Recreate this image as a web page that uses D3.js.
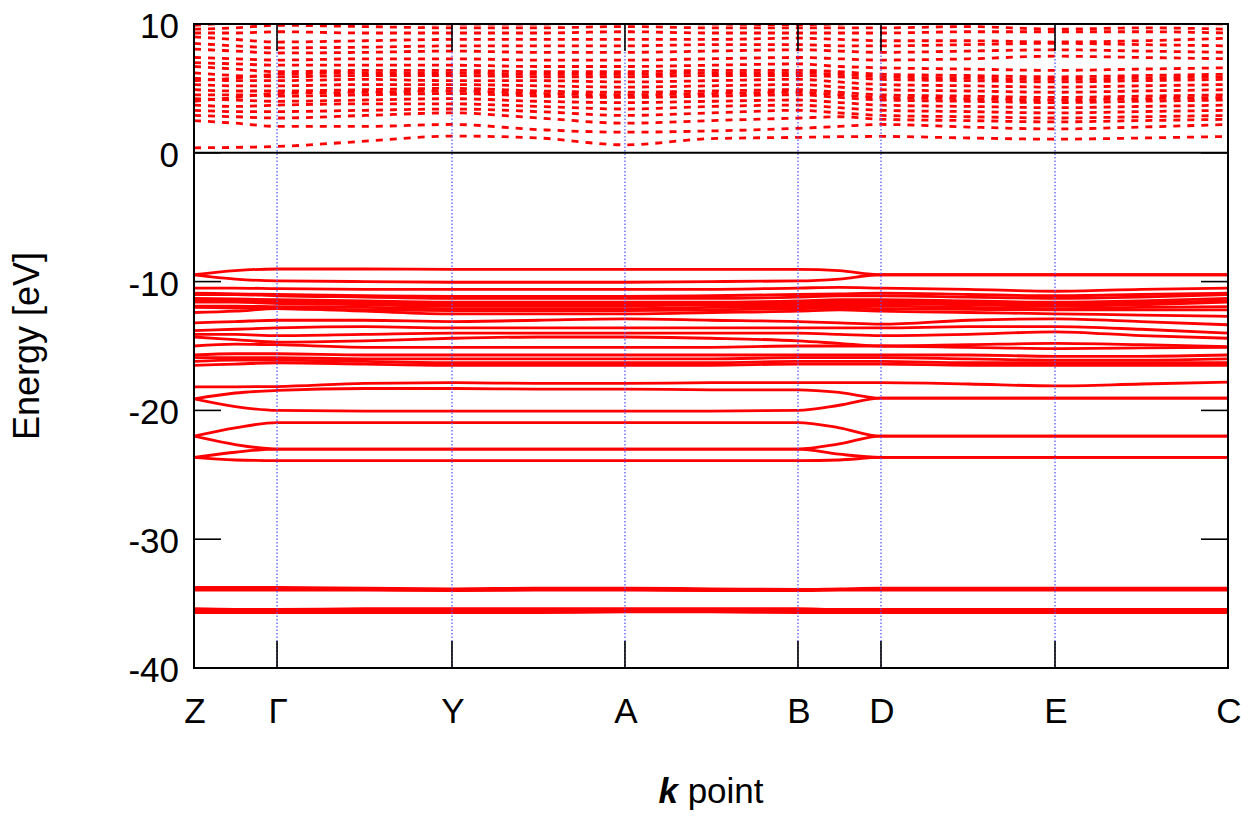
<!DOCTYPE html>
<html>
<head>
<meta charset="utf-8">
<script src="https://cdn.jsdelivr.net/npm/d3@7"></script>
<style>
  html, body { margin: 0; padding: 0; background: #fff; }
  svg { display: block; font-family: "Liberation Sans", Arial, sans-serif; }
</style>
</head>
<body>
<svg id="chart" width="1252" height="825"></svg>
<script>
// ---- data ----
const kLabels = ["Z", "Γ", "Y", "A", "B", "D", "E", "C"];
const kNodes  = [0, 0.803, 2.495, 4.168, 5.841, 6.644, 8.327, 10];
// sampling positions along the path (nodes and segment midpoints)
const kGrid = [0, 0.40, 0.803, 1.65, 2.495, 3.33, 4.168, 5.00, 5.841, 6.24, 6.644, 7.49, 8.327, 9.16, 10];
const yTicks = [10, 0, -10, -20, -30, -40];

// occupied (valence) bands, energies in eV at kGrid
const valenceBands = [
  [-9.47, -9.15, -9.02, -9.02, -9.05, -9.05, -9.05, -9.05, -9.05, -9.15, -9.47, -9.47, -9.47, -9.47, -9.47],
  [-9.47, -9.80, -9.95, -10.0, -10.05, -10.05, -10.05, -10.0, -9.95, -9.80, -9.47, -9.47, -9.47, -9.47, -9.47],
  [-10.5, -10.5, -10.55, -10.6, -10.6, -10.6, -10.6, -10.6, -10.5, -10.45, -10.5, -10.6, -10.75, -10.6, -10.5],
  [-10.9, -10.95, -11.0, -11.1, -11.15, -11.15, -11.15, -11.1, -11.0, -10.95, -10.9, -11.0, -11.1, -11.0, -10.9],
  [-11.0, -11.0, -11.1, -11.2, -11.3, -11.3, -11.3, -11.3, -11.2, -11.1, -11.1, -11.2, -11.3, -11.2, -11.0],
  [-11.3, -11.35, -11.4, -11.5, -11.6, -11.6, -11.6, -11.6, -11.5, -11.4, -11.4, -11.5, -11.6, -11.5, -11.3],
  [-11.45, -11.5, -11.55, -11.65, -11.75, -11.75, -11.75, -11.7, -11.65, -11.55, -11.55, -11.65, -11.75, -11.65, -11.5],
  [-11.6, -11.6, -11.7, -11.8, -11.9, -11.9, -11.9, -11.8, -11.8, -11.7, -11.7, -11.8, -11.9, -11.8, -11.6],
  [-11.9, -11.9, -11.95, -12.0, -12.1, -12.1, -12.1, -12.0, -11.95, -11.9, -11.9, -12.0, -12.1, -12.0, -11.95],
  [-12.0, -12.05, -12.1, -12.2, -12.25, -12.25, -12.25, -12.2, -12.1, -12.05, -12.1, -12.15, -12.2, -12.2, -12.2],
  [-12.4, -12.3, -12.1, -12.3, -12.5, -12.5, -12.5, -12.4, -12.3, -12.2, -12.3, -12.4, -12.5, -12.6, -12.7],
  [-13.2, -13.1, -13.0, -13.0, -13.1, -13.0, -12.9, -13.0, -13.1, -13.2, -13.3, -13.0, -12.9, -13.1, -13.35],
  [-13.8, -13.7, -13.6, -13.5, -13.6, -13.6, -13.6, -13.6, -13.6, -13.6, -13.6, -13.5, -13.5, -13.7, -14.0],
  [-14.1, -14.1, -14.2, -14.1, -14.0, -14.0, -14.0, -14.0, -14.0, -14.1, -14.2, -14.1, -13.9, -14.2, -14.4],
  [-14.3, -14.5, -14.7, -14.6, -14.4, -14.3, -14.3, -14.4, -14.6, -14.8, -15.0, -14.9, -14.8, -14.9, -15.05],
  [-15.0, -14.85, -14.9, -15.1, -15.1, -15.1, -15.1, -15.1, -15.0, -15.0, -15.0, -15.1, -15.2, -15.15, -15.1],
  [-15.7, -15.6, -15.6, -15.7, -15.7, -15.7, -15.7, -15.7, -15.7, -15.7, -15.7, -15.7, -15.8, -15.8, -15.7],
  [-15.9, -15.9, -15.9, -16.0, -16.0, -16.0, -16.0, -16.0, -15.9, -15.9, -15.9, -16.0, -16.1, -16.1, -16.0],
  [-16.2, -16.1, -16.1, -16.2, -16.3, -16.3, -16.3, -16.3, -16.2, -16.2, -16.2, -16.3, -16.3, -16.3, -16.3],
  [-16.5, -16.4, -16.3, -16.4, -16.5, -16.5, -16.5, -16.5, -16.4, -16.4, -16.4, -16.5, -16.5, -16.5, -16.5],
  [-18.17, -18.17, -18.15, -17.9, -17.85, -17.9, -17.9, -17.85, -17.85, -17.85, -17.85, -17.95, -18.1, -17.95, -17.8],
  [-19.1, -18.65, -18.45, -18.3, -18.3, -18.35, -18.35, -18.4, -18.4, -18.6, -19.05, -19.05, -19.05, -19.05, -19.05],
  [-19.1, -19.7, -20.0, -20.05, -20.05, -20.05, -20.05, -20.05, -20.0, -19.6, -19.05, -19.05, -19.05, -19.05, -19.05],
  [-22.0, -21.35, -20.95, -20.95, -20.95, -20.95, -20.95, -20.95, -20.95, -21.35, -22.0, -22.0, -22.0, -22.0, -22.0],
  [-22.0, -22.65, -23.0, -23.0, -23.0, -23.0, -23.0, -23.0, -23.0, -22.6, -22.0, -22.0, -22.0, -22.0, -22.0],
  [-23.65, -23.25, -23.0, -23.0, -23.0, -23.0, -23.0, -23.0, -23.0, -23.4, -23.65, -23.65, -23.65, -23.65, -23.65],
  [-23.65, -23.85, -23.9, -23.9, -23.9, -23.9, -23.9, -23.9, -23.9, -23.85, -23.65, -23.65, -23.65, -23.65, -23.65],
  [-33.75, -33.75, -33.75, -33.8, -33.85, -33.8, -33.8, -33.85, -33.9, -33.85, -33.8, -33.8, -33.8, -33.8, -33.8],
  [-33.85, -33.85, -33.85, -33.9, -33.95, -33.9, -33.9, -33.95, -33.95, -33.9, -33.9, -33.9, -33.9, -33.9, -33.9],
  [-33.95, -33.95, -33.95, -33.95, -34.0, -33.95, -33.95, -34.0, -34.0, -33.95, -33.95, -33.95, -33.95, -33.95, -33.95],
  [-35.4, -35.45, -35.45, -35.4, -35.4, -35.4, -35.4, -35.4, -35.4, -35.45, -35.45, -35.45, -35.45, -35.45, -35.45],
  [-35.5, -35.5, -35.5, -35.5, -35.5, -35.5, -35.5, -35.5, -35.5, -35.5, -35.5, -35.5, -35.5, -35.5, -35.5],
  [-35.6, -35.6, -35.6, -35.6, -35.6, -35.6, -35.55, -35.55, -35.6, -35.6, -35.6, -35.6, -35.6, -35.6, -35.6],
  [-35.7, -35.7, -35.7, -35.7, -35.7, -35.7, -35.65, -35.65, -35.7, -35.7, -35.7, -35.7, -35.7, -35.7, -35.7]
];

// unoccupied (conduction) bands, energies in eV at kGrid
const conductionBands = [
  [0.39, 0.42, 0.49, 0.9, 1.3, 1.15, 0.62, 1.1, 1.2, 1.25, 1.27, 1.15, 1.06, 1.15, 1.27],
  [2.5, 2.3, 2.05, 2.05, 2.2, 1.8, 1.6, 1.7, 1.9, 2.05, 2.2, 2.0, 1.85, 2.0, 2.2],
  [2.9, 2.8, 2.7, 2.9, 3.1, 2.7, 2.3, 2.5, 2.7, 2.8, 2.6, 2.5, 2.4, 2.5, 2.6],
  [3.3, 3.2, 3.2, 3.3, 3.4, 3.2, 2.9, 3.1, 3.3, 3.1, 2.9, 2.8, 2.7, 2.8, 2.9],
  [3.7, 3.6, 3.7, 3.8, 3.8, 3.6, 3.4, 3.6, 3.7, 3.5, 3.3, 3.2, 3.1, 3.2, 3.3],
  [4.0, 4.3, 4.6, 4.7, 4.8, 4.6, 4.5, 4.6, 4.7, 4.5, 4.3, 4.2, 4.1, 4.2, 4.3],
  [4.2, 4.1, 4.0, 4.1, 4.2, 4.0, 3.9, 4.0, 4.1, 3.9, 3.7, 3.6, 3.5, 3.6, 3.7],
  [4.5, 4.5, 4.4, 4.5, 4.6, 4.4, 4.3, 4.4, 4.5, 4.3, 4.1, 4.0, 3.9, 4.0, 4.1],
  [4.9, 4.8, 4.8, 4.9, 5.0, 4.8, 4.7, 4.8, 4.9, 4.7, 4.5, 4.4, 4.3, 4.4, 4.5],
  [5.3, 5.2, 5.2, 5.3, 5.3, 5.2, 5.1, 5.2, 5.3, 5.1, 4.9, 4.8, 4.7, 4.8, 4.9],
  [5.8, 5.6, 5.6, 5.7, 5.6, 5.6, 5.5, 5.6, 5.7, 5.5, 5.3, 5.2, 5.1, 5.2, 5.3],
  [5.6, 5.8, 6.1, 6.2, 6.2, 6.1, 6.1, 6.2, 6.2, 6.1, 5.9, 5.8, 5.7, 5.8, 5.9],
  [6.2, 6.0, 5.9, 6.0, 6.0, 5.9, 5.9, 6.0, 6.0, 5.9, 5.7, 5.6, 5.5, 5.6, 5.7],
  [6.7, 6.5, 6.3, 6.4, 6.4, 6.3, 6.3, 6.4, 6.4, 6.3, 6.1, 6.0, 5.9, 6.0, 6.1],
  [7.0, 6.9, 6.8, 6.8, 6.8, 6.7, 6.7, 6.8, 6.9, 6.7, 6.6, 6.5, 6.4, 6.5, 6.6],
  [7.4, 7.3, 7.2, 7.3, 7.3, 7.2, 7.2, 7.3, 7.4, 7.3, 7.2, 7.3, 7.5, 7.4, 7.3],
  [8.05, 7.9, 7.75, 7.8, 7.9, 7.8, 7.8, 7.9, 8.0, 7.9, 7.8, 7.9, 8.0, 7.9, 7.8],
  [8.5, 8.3, 8.15, 8.2, 8.3, 8.3, 8.3, 8.4, 8.4, 8.3, 8.3, 8.4, 8.5, 8.4, 8.3],
  [9.0, 8.8, 8.6, 8.7, 8.8, 8.8, 8.8, 8.8, 8.9, 8.8, 8.7, 8.7, 8.6, 8.7, 8.9],
  [9.3, 9.3, 9.4, 9.3, 9.3, 9.3, 9.4, 9.3, 9.3, 9.3, 9.3, 9.4, 9.4, 9.4, 9.3],
  [9.6, 9.7, 9.9, 9.8, 9.7, 9.7, 9.8, 9.7, 9.7, 9.7, 9.7, 9.8, 9.6, 9.7, 9.6],
  [9.9, 10.1, 10.2, 10.1, 10.0, 10.0, 10.1, 10.0, 9.95, 10.0, 10.1, 10.2, 10.3, 10.1, 10.0]
];

// ---- layout ----
const svg = d3.select("#chart");
const L = 194, R = 1228, T = 24, B = 668;
const x = d3.scaleLinear().domain([0, 10]).range([L, R]);
const y = d3.scaleLinear().domain([-40, 10]).range([B, T]);
const tickLen = 27;

svg.append("defs").append("clipPath").attr("id", "clip")
  .append("rect").attr("x", L).attr("y", T).attr("width", R - L).attr("height", B - T);

const line = d3.line()
  .x((d, i) => x(kGrid[i]))
  .y(d => y(d))
  .curve(d3.curveMonotoneX);

const plot = svg.append("g").attr("clip-path", "url(#clip)");

plot.selectAll("path.val").data(valenceBands).join("path")
  .attr("class", "val")
  .attr("d", line)
  .attr("fill", "none")
  .attr("stroke", "#ff0000")
  .attr("stroke-width", 2.8);

plot.selectAll("path.cond").data(conductionBands).join("path")
  .attr("class", "cond")
  .attr("d", line)
  .attr("fill", "none")
  .attr("stroke", "#ff0000")
  .attr("stroke-width", 2.8)
  .attr("stroke-dasharray", "7,7");

// blue dotted high-symmetry lines
svg.selectAll("line.kline").data(kNodes.slice(1, -1)).join("line")
  .attr("class", "kline")
  .attr("x1", d => x(d)).attr("x2", d => x(d))
  .attr("y1", T).attr("y2", B)
  .attr("stroke", "#5a5aff")
  .attr("stroke-width", 1.3)
  .attr("stroke-dasharray", "1.5,2");

// zero line
svg.append("line")
  .attr("x1", L).attr("x2", R).attr("y1", y(0)).attr("y2", y(0))
  .attr("stroke", "#000").attr("stroke-width", 2);

// frame
svg.append("rect")
  .attr("x", L).attr("y", T).attr("width", R - L).attr("height", B - T)
  .attr("fill", "none").attr("stroke", "#000").attr("stroke-width", 2);

// ticks
const ticks = svg.append("g").attr("stroke", "#000").attr("stroke-width", 1.6);
yTicks.forEach(v => {
  ticks.append("line").attr("x1", L).attr("x2", L + tickLen).attr("y1", y(v)).attr("y2", y(v));
  ticks.append("line").attr("x1", R - tickLen).attr("x2", R).attr("y1", y(v)).attr("y2", y(v));
});
kNodes.forEach(k => {
  ticks.append("line").attr("x1", x(k)).attr("x2", x(k)).attr("y1", B).attr("y2", B - tickLen);
  ticks.append("line").attr("x1", x(k)).attr("x2", x(k)).attr("y1", T).attr("y2", T + tickLen);
});

// tick labels
svg.selectAll("text.ylab").data(yTicks).join("text")
  .attr("class", "ylab")
  .attr("x", 179).attr("y", d => y(d) + 14)
  .attr("text-anchor", "end")
  .attr("font-size", 35)
  .text(d => d);

svg.selectAll("text.xlab").data(kLabels).join("text")
  .attr("class", "xlab")
  .attr("x", (d, i) => x(kNodes[i]) + 1).attr("y", 723)
  .attr("text-anchor", "middle")
  .attr("font-size", 35)
  .text(d => d);

// axis titles
svg.append("text")
  .attr("transform", "translate(39,346) rotate(-90)")
  .attr("text-anchor", "middle")
  .attr("font-size", 36)
  .text("Energy [eV]");

const xt = svg.append("text")
  .attr("x", 711).attr("y", 803)
  .attr("text-anchor", "middle")
  .attr("font-size", 35);
xt.append("tspan").attr("font-style", "italic").attr("font-weight", "bold").text("k");
xt.append("tspan").text(" point");
</script>
</body>
</html>
